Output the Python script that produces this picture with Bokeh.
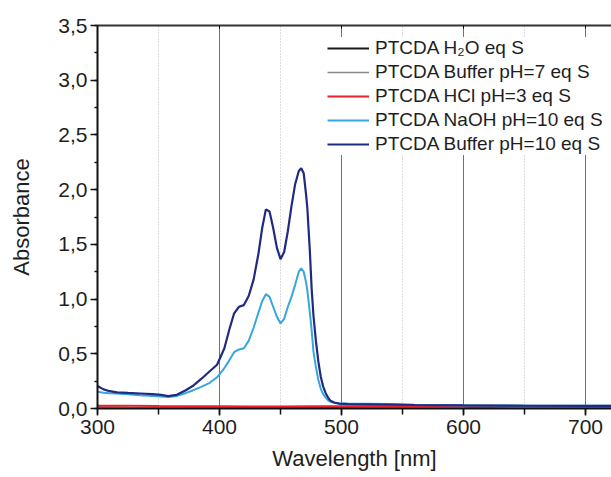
from bokeh.plotting import figure
from bokeh.models import (Range1d, SingleIntervalTicker, LinearAxis, CustomJSTickFormatter,
                          Legend, LegendItem)
from bokeh.embed import file_html
from bokeh.resources import INLINE

# ---- data ----
wl = [300, 305, 310, 316, 325, 335, 345, 352, 358, 365, 372, 378, 385, 392, 398,
      404, 408, 412, 416, 420, 424, 428, 432, 435, 438, 441, 444, 447, 450, 453,
      456, 459, 462, 465, 467, 469, 471, 472, 474, 475.5, 477, 479, 481, 483, 485,
      487, 489, 491, 494, 498, 505, 520, 540, 560, 600, 650, 700, 722]

buffer10 = [0.205, 0.175, 0.158, 0.147, 0.142, 0.137, 0.132, 0.125, 0.113, 0.125,
            0.165, 0.205, 0.27, 0.34, 0.40, 0.55, 0.72, 0.87, 0.93, 0.945, 1.03,
            1.18, 1.42, 1.65, 1.82, 1.80, 1.65, 1.47, 1.365, 1.43, 1.62, 1.85, 2.05,
            2.17, 2.195, 2.15, 1.95, 1.83, 1.45, 1.10, 0.85, 0.62, 0.43, 0.29, 0.20,
            0.14, 0.10, 0.07, 0.055, 0.045, 0.040, 0.038, 0.035, 0.032, 0.028, 0.025,
            0.024, 0.024]

naoh10 = [0.152, 0.145, 0.140, 0.137, 0.130, 0.122, 0.115, 0.110, 0.105, 0.115,
          0.140, 0.165, 0.198, 0.235, 0.285, 0.37, 0.44, 0.515, 0.54, 0.55, 0.62,
          0.74, 0.88, 0.98, 1.045, 1.02, 0.93, 0.84, 0.777, 0.82, 0.93, 1.02, 1.13,
          1.25, 1.28, 1.25, 1.15, 1.08, 0.88, 0.72, 0.52, 0.38, 0.26, 0.18, 0.13,
          0.10, 0.075, 0.062, 0.052, 0.046, 0.045, 0.044, 0.040, 0.035, 0.030,
          0.027, 0.025, 0.025]

flat_wl = [300, 325, 350, 375, 400, 425, 450, 475, 500, 525, 550, 575, 600, 610,
           625, 650, 675, 700, 722]
hcl3 = [0.026, 0.024, 0.022, 0.021, 0.020, 0.019, 0.019, 0.020, 0.020, 0.021,
        0.021, 0.022, 0.024, 0.026, 0.024, 0.022, 0.022, 0.021, 0.021]
h2o = [0.008, 0.006, 0.005, 0.004, 0.003, 0.004, 0.005, 0.006, 0.006, 0.005,
       0.005, 0.005, 0.006, 0.008, 0.007, 0.006, 0.005, 0.005, 0.005]
buffer7 = [0.012, 0.010, 0.009, 0.008, 0.008, 0.010, 0.012, 0.014, 0.013, 0.012,
           0.011, 0.010, 0.012, 0.016, 0.013, 0.011, 0.010, 0.010, 0.010]

labels = ["PTCDA H\u2082O eq S", "PTCDA Buffer pH=7 eq S", "PTCDA HCl pH=3 eq S",
          "PTCDA NaOH pH=10 eq S", "PTCDA Buffer pH=10 eq S"]
x_title = "Wavelength [nm]"
y_title = "Absorbance"

FONT = "Liberation Sans"
TXT = "#1e1e1e"

p = figure(width=611, height=477, output_backend="svg", toolbar_location=None,
           x_range=Range1d(300, 721.3), y_range=Range1d(0, 3.5),
           min_border_left=97, min_border_right=0, min_border_top=25,
           min_border_bottom=69)
p.outline_line_color = None
p.background_fill_color = "white"
p.border_fill_color = "white"

xt = SingleIntervalTicker(interval=100, num_minor_ticks=2)
yt = SingleIntervalTicker(interval=0.5, num_minor_ticks=2)
p.xaxis.ticker = xt
p.yaxis.ticker = yt
p.xgrid.ticker = xt
p.ygrid.grid_line_color = None
p.xgrid.grid_line_color = "#707070"
p.xgrid.grid_line_width = 1
p.xgrid.minor_grid_line_color = "#b8b8b8"
p.xgrid.minor_grid_line_dash = "1 2"
p.xgrid.minor_grid_line_width = 1

p.yaxis.formatter = CustomJSTickFormatter(code="return tick.toFixed(1).replace('.', ',');")
p.xaxis.formatter = CustomJSTickFormatter(code="return tick.toFixed(0);")

for ax in (p.xaxis[0], p.yaxis[0]):
    ax.axis_line_width = 2
    ax.axis_line_color = "#111111"
    ax.major_tick_line_color = "#111111"
    ax.minor_tick_line_color = "#111111"
    ax.major_tick_line_width = 1.5
    ax.minor_tick_line_width = 1.5
    ax.major_tick_in = 0
    ax.major_tick_out = 7
    ax.minor_tick_in = 0
    ax.major_label_text_font = FONT
    ax.major_label_text_font_size = "21px"
    ax.major_label_text_color = TXT
    ax.axis_label_text_font = FONT
    ax.axis_label_text_font_size = "22px"
    ax.axis_label_text_font_style = "normal"
    ax.axis_label_text_color = TXT

p.xaxis.minor_tick_out = 6
p.yaxis.minor_tick_out = 3
p.xaxis.major_label_standoff = 4
p.yaxis.major_label_standoff = 3
p.xaxis.axis_label = x_title
p.yaxis.axis_label = y_title
p.xaxis.axis_label_standoff = 9
p.xaxis.axis_label_text_baseline = "middle"
p.yaxis.axis_label_standoff = 21

top = LinearAxis(ticker=xt, formatter=CustomJSTickFormatter(code="return '';"))
top.axis_line_width = 2
top.axis_line_color = "#333333"
top.major_tick_in = 3
top.major_tick_out = 0
top.minor_tick_in = 0
top.minor_tick_out = 0
top.major_label_standoff = 0
top.major_label_text_font_size = "1px"
p.add_layout(top, "above")

r_h2o = p.line(flat_wl, h2o, line_color="#1a1a1a", line_width=2)
r_b7 = p.line(flat_wl, buffer7, line_color="#8a8a8a", line_width=1.5)
r_hcl = p.line(flat_wl, hcl3, line_color="#e8222e", line_width=2)
r_naoh = p.line(wl, naoh10, line_color="#35a6de", line_width=2)
r_b10 = p.line(wl, buffer10, line_color="#1f2a82", line_width=2.2)

legend = Legend(items=[LegendItem(label=labels[0], renderers=[r_h2o]),
                       LegendItem(label=labels[1], renderers=[r_b7]),
                       LegendItem(label=labels[2], renderers=[r_hcl]),
                       LegendItem(label=labels[3], renderers=[r_naoh]),
                       LegendItem(label=labels[4], renderers=[r_b10])],
                location=(230, 253), orientation="vertical")
legend.label_text_font = FONT
legend.label_text_font_size = "19px"
legend.label_text_color = TXT
legend.glyph_width = 42
legend.glyph_height = 20
legend.label_height = 20
legend.label_standoff = 6
legend.spacing = 2
legend.padding = 5
legend.margin = 0
legend.border_line_color = None
legend.background_fill_color = "white"
legend.background_fill_alpha = 1.0
p.add_layout(legend, "center")

open("out.html", "w").write(file_html(p, INLINE))
